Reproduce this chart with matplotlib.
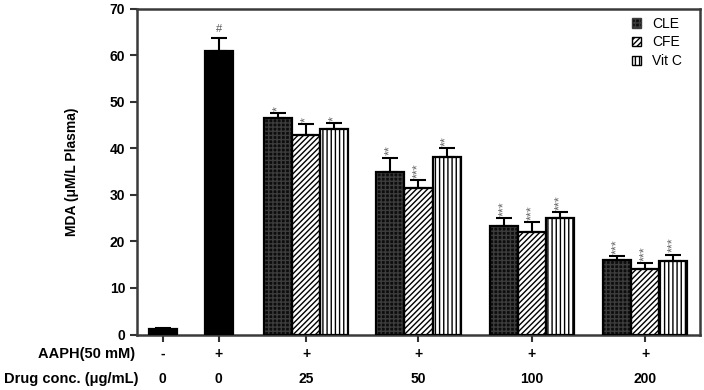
import matplotlib
matplotlib.use("Agg")
import matplotlib.pyplot as plt
import matplotlib.transforms as mtransforms
from matplotlib.patches import Patch

plt.rcParams['font.family'] = ['Liberation Sans', 'DejaVu Sans']

# ---- data ----
ctrl_labels = ["Control", "AAPH"]
ctrl_vals = [1.2, 61.0]
ctrl_err = [0.3, 2.8]
ctrl_marks = ["", "#"]

conc_labels = ["25", "50", "100", "200"]
series_names = ["CLE", "CFE", "Vit C"]
cle = [46.5, 35.0, 23.4, 16.0]
cle_err = [1.1, 3.0, 1.6, 0.9]
cfe = [42.9, 31.6, 22.1, 14.1]
cfe_err = [2.3, 1.6, 2.0, 1.3]
vitc = [44.1, 38.2, 25.0, 15.9]
vitc_err = [1.4, 1.8, 1.3, 1.3]
marks = [["*", "*", "*"], ["**", "***", "**"], ["***", "***", "***"], ["***", "***", "***"]]

aaph_row = ["-", "+", "+", "+", "+", "+"]
drug_row = ["0", "0", "25", "50", "100", "200"]

# ---- positions ----
ctrl_pos = [0.0, 0.5]
group_pos = [1.28, 2.28, 3.29, 4.30]
all_pos = ctrl_pos + group_pos
bw = 0.25

fig = plt.figure(figsize=(7.04, 3.90), dpi=100)
ax = fig.add_axes([0.1946, 0.1423, 0.7997, 0.8347])

def draw_bar(x, h, face, hatch, hcol):
    ax.bar(x, h, bw, color=face, edgecolor=hcol, hatch=hatch, linewidth=0, zorder=2)
    ax.bar(x, h, bw, fill=False, edgecolor='black', linewidth=1.6, zorder=3)

styles = [('#0d0d0d', '++++', '#3c3c3c'), ('white', '//////', 'black'), ('white', '||||', 'black')]
err_kw = dict(fmt='none', ecolor='black', elinewidth=1.5, capsize=6, capthick=1.5, zorder=4)

for i, (x, v, e) in enumerate(zip(ctrl_pos, ctrl_vals, ctrl_err)):
    draw_bar(x, v, 'black', None, 'black')
    ax.errorbar([x], [v], yerr=[[0], [e]], **err_kw)
    if ctrl_marks[i]:
        ax.text(x, v + e + 0.8, ctrl_marks[i], ha='center', va='bottom', fontsize=8, color='#555555')

series = [(cle, cle_err), (cfe, cfe_err), (vitc, vitc_err)]
for gi, gx in enumerate(group_pos):
    for si, (vals, errs) in enumerate(series):
        x = gx + (si - 1) * bw
        face, hatch, hcol = styles[si]
        draw_bar(x, vals[gi], face, hatch, hcol)
        ax.errorbar([x], [vals[gi]], yerr=[[0], [errs[gi]]], **err_kw)
        ax.text(x, vals[gi] + errs[gi] + 0.5, marks[gi][si], ha='center', va='bottom',
                fontsize=9, rotation=90, color='#666666')

ax.set_xlim(-0.23, 4.79)
ax.set_ylim(0, 70)
ax.set_yticks(range(0, 71, 10))
ax.set_xticks(all_pos)
ax.set_xticklabels([])
ax.tick_params(axis='both', direction='out', length=5, width=1.5, color='#333333')
for lab in ax.get_yticklabels():
    lab.set_fontweight('bold')
    lab.set_fontsize(10)
for sp in ax.spines.values():
    sp.set_linewidth(1.8)
    sp.set_color('#3a3a3a')
ax.set_ylabel("MDA (μM/L Plasma)", fontsize=10, fontweight='bold', labelpad=22)

trans = mtransforms.blended_transform_factory(ax.transData, fig.transFigure)
for x, a, d in zip(all_pos, aaph_row, drug_row):
    ax.text(x, 1 - 354 / 390, a, transform=trans, ha='center', va='center', fontsize=10, fontweight='bold')
    ax.text(x, 1 - 379 / 390, d, transform=trans, ha='center', va='center', fontsize=10, fontweight='bold')
fig.text(135 / 704, 1 - 354 / 390, "AAPH(50 mM)", ha='right', va='center', fontsize=10.5, fontweight='bold')
fig.text(138 / 704, 1 - 379 / 390, "Drug conc. (μg/mL)", ha='right', va='center', fontsize=10.5, fontweight='bold')

handles = [Patch(facecolor='#0d0d0d', edgecolor='#3c3c3c', hatch='++++'),
           Patch(facecolor='white', edgecolor='black', hatch='//////'),
           Patch(facecolor='white', edgecolor='black', hatch='||||')]
leg = ax.legend(handles, series_names, loc='upper left', frameon=False, fontsize=10,
                handlelength=0.7, handleheight=0.7, handletextpad=0.8, labelspacing=0.35,
                borderaxespad=0.0, bbox_to_anchor=((626 - 137) / 563, 1 - 2 / 325.5))

fig.savefig("out.png", dpi=100)
